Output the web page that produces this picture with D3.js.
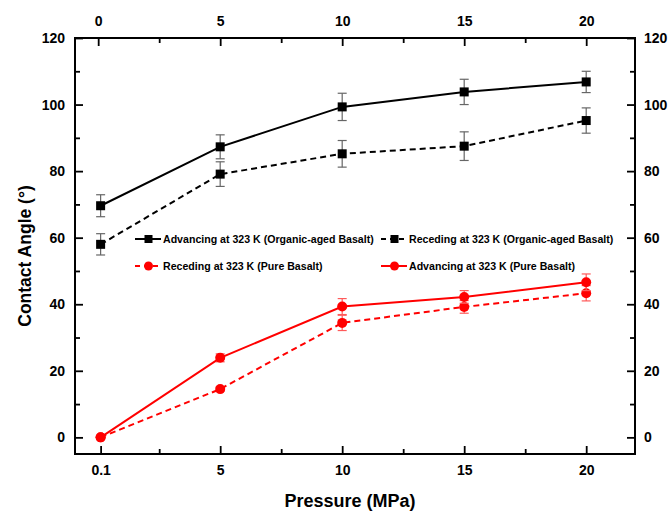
<!DOCTYPE html>
<html>
<head>
<meta charset="utf-8">
<script src="https://cdn.jsdelivr.net/npm/d3@7/dist/d3.min.js"></script>
<style>
  html, body { margin: 0; padding: 0; background: #fff; }
  svg { display: block; font-family: Arial, "Liberation Sans", sans-serif; font-weight: bold; }
</style>
</head>
<body>
<svg id="chart" width="670" height="512"></svg>
<script>
// Pressure positions (MPa) and the labels shown on the bottom / top axes
const pressures = [0.1, 5, 10, 15, 20];
const bottomTicks = [0.1, 5, 10, 15, 20];
const bottomTickLabels = ["0.1", "5", "10", "15", "20"];
const topTicks = [0, 5, 10, 15, 20];
const xMinorTicks = [2.5, 7.5, 12.5, 17.5];
const yTicks = [0, 20, 40, 60, 80, 100, 120];
const yMinorTicks = [10, 30, 50, 70, 90, 110];

// Contact angle (°) with error bars
const advOrganic = [69.6, 87.3, 99.3, 103.8, 106.8];
const advOrganicErr = [3.3, 3.6, 4.1, 3.8, 3.2];
const recOrganic = [58.0, 79.1, 85.2, 87.5, 95.2];
const recOrganicErr = [3.2, 3.7, 4.0, 4.3, 3.8];
const recPure = [0, 14.5, 34.4, 39.2, 43.3];
const recPureErr = [0, 0.6, 2.3, 1.9, 2.3];
const advPure = [0, 23.9, 39.3, 42.2, 46.6];
const advPureErr = [0, 1.2, 2.4, 1.9, 2.5];

const seriesNames = [
  "Advancing at 323 K (Organic-aged Basalt)",
  "Receding at 323 K (Organic-aged Basalt)",
  "Receding at 323 K (Pure Basalt)",
  "Advancing at 323 K (Pure Basalt)"
];

const series = [
  { name: seriesNames[0], values: advOrganic, err: advOrganicErr, color: "#000", errColor: "#666", dash: null, marker: "square" },
  { name: seriesNames[1], values: recOrganic, err: recOrganicErr, color: "#000", errColor: "#666", dash: "6,4", marker: "square" },
  { name: seriesNames[2], values: recPure, err: recPureErr, color: "#ff0000", errColor: "#ff5a5a", dash: "6,4", marker: "circle" },
  { name: seriesNames[3], values: advPure, err: advPureErr, color: "#ff0000", errColor: "#ff5a5a", dash: null, marker: "circle" }
];

const svg = d3.select("#chart");
const plotLeft = 75, plotRight = 635, plotTop = 38, plotBottom = 454;

const x = d3.scaleLinear().domain([-0.95, 22]).range([plotLeft, plotRight]);
const y = d3.scaleLinear().domain([-5, 120]).range([plotBottom, plotTop]);

// Axes: ticks point into the plot
function styleAxis(g) {
  g.select(".domain").remove();
  g.selectAll(".tick line").attr("stroke", "#000").attr("stroke-width", 1.8);
  g.selectAll(".tick text").attr("fill", "#000").style("font-size", "14px").style("font-weight", "bold");
}

const fmtBottom = d => bottomTickLabels[bottomTicks.indexOf(d)];

svg.append("g").attr("transform", `translate(0,${plotBottom})`)
  .call(d3.axisBottom(x).tickValues(bottomTicks).tickFormat(fmtBottom).tickSizeInner(-8).tickSizeOuter(0).tickPadding(11))
  .call(styleAxis);
svg.append("g").attr("transform", `translate(0,${plotBottom})`)
  .call(d3.axisBottom(x).tickValues(xMinorTicks).tickFormat("").tickSizeInner(-5).tickSizeOuter(0))
  .call(styleAxis);

svg.append("g").attr("transform", `translate(0,${plotTop})`)
  .call(d3.axisTop(x).tickValues(topTicks).tickFormat(d3.format("d")).tickSizeInner(-8).tickSizeOuter(0).tickPadding(12))
  .call(styleAxis);
svg.append("g").attr("transform", `translate(0,${plotTop})`)
  .call(d3.axisTop(x).tickValues(xMinorTicks).tickFormat("").tickSizeInner(-5).tickSizeOuter(0))
  .call(styleAxis);

svg.append("g").attr("transform", `translate(${plotLeft},0)`)
  .call(d3.axisLeft(y).tickValues(yTicks).tickFormat(d3.format("d")).tickSizeInner(-8).tickSizeOuter(0).tickPadding(10))
  .call(styleAxis);
svg.append("g").attr("transform", `translate(${plotLeft},0)`)
  .call(d3.axisLeft(y).tickValues(yMinorTicks).tickFormat("").tickSizeInner(-5).tickSizeOuter(0))
  .call(styleAxis);

svg.append("g").attr("transform", `translate(${plotRight},0)`)
  .call(d3.axisRight(y).tickValues(yTicks).tickFormat(d3.format("d")).tickSizeInner(-8).tickSizeOuter(0).tickPadding(9))
  .call(styleAxis);
svg.append("g").attr("transform", `translate(${plotRight},0)`)
  .call(d3.axisRight(y).tickValues(yMinorTicks).tickFormat("").tickSizeInner(-5).tickSizeOuter(0))
  .call(styleAxis);

// Frame
svg.append("rect")
  .attr("x", plotLeft).attr("y", plotTop)
  .attr("width", plotRight - plotLeft).attr("height", plotBottom - plotTop)
  .attr("fill", "none").attr("stroke", "#000").attr("stroke-width", 2);

// Axis titles
svg.append("text")
  .attr("x", 350).attr("y", 507)
  .attr("text-anchor", "middle")
  .style("font-size", "18px")
  .text("Pressure (MPa)");

svg.append("text")
  .attr("transform", `translate(31,${(plotTop + plotBottom) / 2 + 10}) rotate(-90)`)
  .attr("text-anchor", "middle")
  .style("font-size", "17.5px")
  .text("Contact Angle (°)");

// Markers
function drawMarker(g, type, cx, cy, color, size) {
  if (type === "square") {
    g.append("rect")
      .attr("x", cx - size / 2).attr("y", cy - size / 2)
      .attr("width", size).attr("height", size)
      .attr("fill", color);
  } else {
    g.append("circle")
      .attr("cx", cx).attr("cy", cy).attr("r", size / 2 + 0.5)
      .attr("fill", color);
  }
}

const line = d3.line().x((d, i) => x(pressures[i])).y(d => y(d));

series.forEach(s => {
  const g = svg.append("g");
  // error bars
  s.values.forEach((v, i) => {
    const e = s.err[i];
    if (e <= 0) return;
    const cx = x(pressures[i]);
    const eb = g.append("g").attr("stroke", s.errColor).attr("stroke-width", 1.2);
    eb.append("line").attr("x1", cx).attr("x2", cx).attr("y1", y(v + e)).attr("y2", y(v - e));
    eb.append("line").attr("x1", cx - 4.5).attr("x2", cx + 4.5).attr("y1", y(v + e)).attr("y2", y(v + e));
    eb.append("line").attr("x1", cx - 4.5).attr("x2", cx + 4.5).attr("y1", y(v - e)).attr("y2", y(v - e));
  });
  g.append("path")
    .datum(s.values)
    .attr("d", line)
    .attr("fill", "none")
    .attr("stroke", s.color)
    .attr("stroke-width", 2)
    .attr("stroke-dasharray", s.dash);
  s.values.forEach((v, i) => drawMarker(g, s.marker, x(pressures[i]), y(v), s.color, 9));
});

// Legend, two columns by two rows
const legendPos = [
  { x: 135, y: 239 },
  { x: 381, y: 239 },
  { x: 135, y: 266 },
  { x: 381, y: 266 }
];
series.forEach((s, i) => {
  const p = legendPos[i];
  const g = svg.append("g").attr("transform", `translate(${p.x},${p.y})`);
  g.append("line")
    .attr("x1", 0).attr("x2", 26).attr("y1", 0).attr("y2", 0)
    .attr("stroke", s.color).attr("stroke-width", 2)
    .attr("stroke-dasharray", s.dash ? "5,4" : null);
  drawMarker(g, s.marker, 13.5, 0, s.color, 8);
  g.append("text")
    .attr("x", 28).attr("y", 0).attr("dy", "0.35em")
    .style("font-size", "10.6px")
    .text(s.name);
});
</script>
</body>
</html>
